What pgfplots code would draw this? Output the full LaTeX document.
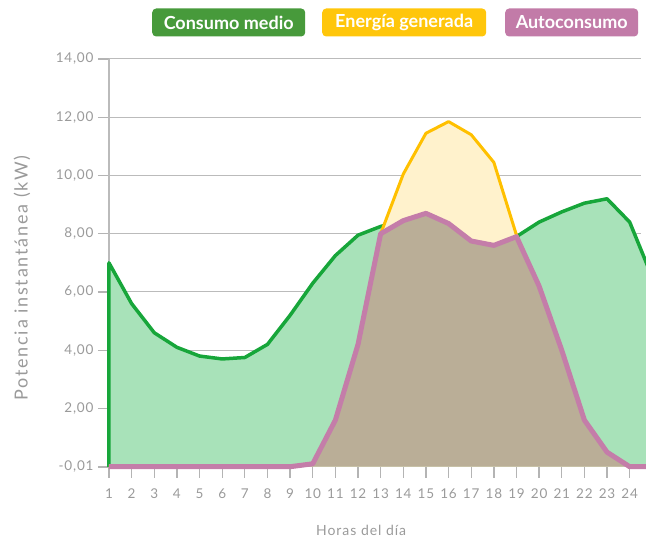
\documentclass[border=0pt]{standalone}
\usepackage{fontspec}
\setmainfont{Lato}
\usepackage{pgfplots}
\pgfplotsset{compat=1.18}
\definecolor{lgGreen}{HTML}{479A3B}
\definecolor{lgYellow}{HTML}{FFC60B}
\definecolor{lgPink}{HTML}{C27BA8}
\definecolor{lnGreen}{HTML}{17A63A}
\definecolor{flGreen}{HTML}{A8E2B9}
\definecolor{lnYellow}{HTML}{FFC000}
\definecolor{flYellow}{HTML}{FFF2CC}
\definecolor{lnPink}{HTML}{C47DA9}
\definecolor{flPink}{HTML}{BAAE97}
\definecolor{txtGray}{HTML}{9A9A9A}
\definecolor{grdGray}{HTML}{BBBBBB}
\definecolor{tckGray}{HTML}{B4B4B4}
\begin{document}
\begin{tikzpicture}
\useasboundingbox (-109pt,-71pt) rectangle (537pt,467pt);
\begin{axis}[
  at={(0,0)}, anchor=south west,
  width=532pt, height=408pt, scale only axis,
  clip=false,
  xmin=1, xmax=24.5, ymin=-0.01, ymax=14,
  xtick={1,...,24},
  ytick={-0.01,2,4,6,8,10,12,14},
  yticklabels={{-0,01},{2,00},{4,00},{6,00},{8,00},{10,00},{12,00},{14,00}},
  /pgf/number format/assume math mode=true,
  ymajorgrids, grid style={draw=grdGray, line width=1pt},
  axis line style={draw=none},
  xtick pos=bottom, ytick pos=left,
  major tick length=11pt,
  every tick/.style={draw=tckGray, line width=1.3pt},
  ticklabel style={font=\fontsize{13.5}{15}\selectfont\addfontfeatures{LetterSpace=6}, text=txtGray},
  xticklabel style={yshift=-7pt},
  yticklabel style={xshift=-1pt},
  xlabel={Horas del día},
  xlabel style={font=\fontsize{14}{16}\selectfont\addfontfeatures{LetterSpace=7}, text=txtGray, at={(axis description cs:0.474,0)}, anchor=center, yshift=-63pt},
  ylabel={Potencia instantánea (kW)},
  ylabel style={font=\fontsize{18}{20}\selectfont\addfontfeatures{LetterSpace=10}, text=txtGray, at={(axis description cs:-0.1635,0.463)}, anchor=center},
  xtick align=outside, ytick align=outside,
]
\draw[grdGray, line width=1.2pt] (axis cs:1,-0.01) -- (axis cs:1,14);
% Consumo medio
\addplot[fill=flGreen, draw=none] coordinates {
(1,7.0) (2,5.6) (3,4.6) (4,4.1) (5,3.8) (6,3.7) (7,3.75) (8,4.2) (9,5.2) (10,6.3)
(11,7.25) (12,7.95) (13,8.25) (14,8.45) (15,8.7) (16,8.35) (17,7.75) (18,7.6) (19,7.9)
(20,8.4) (21,8.75) (22,9.05) (23,9.2) (24,8.4) (25,6.5)} \closedcycle;
\addplot[draw=lnGreen, line width=3.5pt, line join=round] coordinates {
(1,-0.01) (1,7.0) (2,5.6) (3,4.6) (4,4.1) (5,3.8) (6,3.7) (7,3.75) (8,4.2) (9,5.2) (10,6.3)
(11,7.25) (12,7.95) (13,8.25) (14,8.45) (15,8.7) (16,8.35) (17,7.75) (18,7.6) (19,7.9)
(20,8.4) (21,8.75) (22,9.05) (23,9.2) (24,8.4) (25,6.5)};
% Energia generada
\addplot[fill=flYellow, draw=none] coordinates {
(1,0) (2,0) (3,0) (4,0) (5,0) (6,0) (7,0) (8,0) (9,0) (10,0.1)
(11,1.6) (12,4.2) (13,8.0) (14,10.05) (15,11.45) (16,11.85) (17,11.4) (18,10.45) (19,7.95)
(20,6.2) (21,4.0) (22,1.6) (23,0.5) (24,0) (25,0)} \closedcycle;
\addplot[draw=lnYellow, line width=3pt, line join=round] coordinates {
(1,0) (2,0) (3,0) (4,0) (5,0) (6,0) (7,0) (8,0) (9,0) (10,0.1)
(11,1.6) (12,4.2) (13,8.0) (14,10.05) (15,11.45) (16,11.85) (17,11.4) (18,10.45) (19,7.95)
(20,6.2) (21,4.0) (22,1.6) (23,0.5) (24,0) (25,0)};
% Autoconsumo
\addplot[fill=flPink, draw=none] coordinates {
(1,0) (2,0) (3,0) (4,0) (5,0) (6,0) (7,0) (8,0) (9,0) (10,0.1)
(11,1.6) (12,4.2) (13,8.0) (14,8.45) (15,8.7) (16,8.35) (17,7.75) (18,7.6) (19,7.9)
(20,6.2) (21,4.0) (22,1.6) (23,0.5) (24,0) (25,0)} \closedcycle;
\addplot[draw=lnPink, line width=5pt, line join=round] coordinates {
(1,0) (2,0) (3,0) (4,0) (5,0) (6,0) (7,0) (8,0) (9,0) (10,0.1)
(11,1.6) (12,4.2) (13,8.0) (14,8.45) (15,8.7) (16,8.35) (17,7.75) (18,7.6) (19,7.9)
(20,6.2) (21,4.0) (22,1.6) (23,0.5) (24,0) (25,0)};
\end{axis}
% legend
\tikzset{lg/.style={rounded corners=4pt, minimum height=28pt, inner sep=0pt, text=white, font=\fontsize{18}{20}\selectfont\bfseries, anchor=west}}
\node[lg, fill=lgGreen, minimum width=153pt] at (43pt,444.5pt) {Consumo medio};
\node[lg, fill=lgYellow, minimum width=164pt] at (213pt,444.5pt) {Energía generada};
\node[lg, fill=lgPink, minimum width=133pt] at (396pt,444.5pt) {Autoconsumo};
\end{tikzpicture}
\end{document}
